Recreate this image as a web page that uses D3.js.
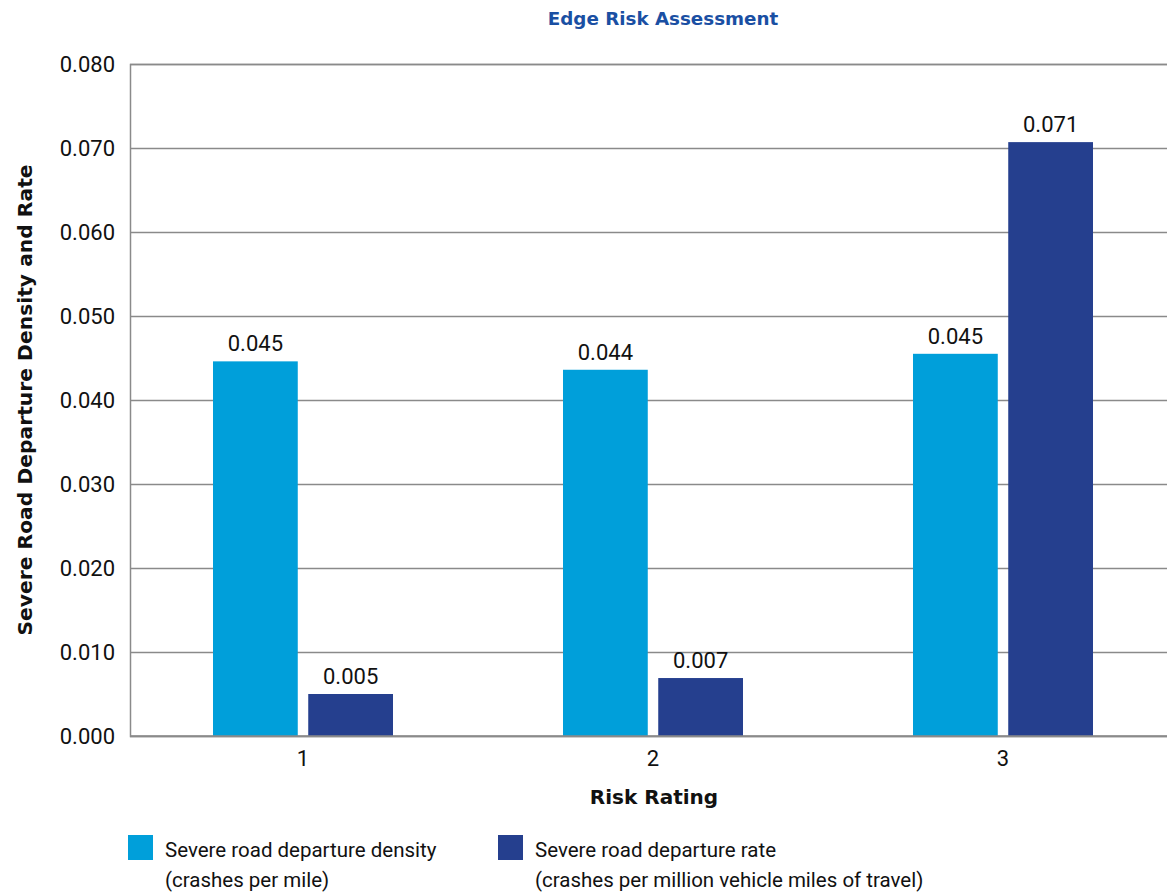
<!DOCTYPE html>
<html>
<head>
<meta charset="utf-8">
<script src="https://cdn.jsdelivr.net/npm/d3@7"></script>
<style>
  html, body { margin: 0; padding: 0; background: #fff; }
  svg { display: block; font-family: Roboto, "Liberation Sans", sans-serif; }
  .bold { font-family: "DejaVu Sans", sans-serif; font-weight: bold; }
</style>
</head>
<body>
<svg id="chart" width="1167" height="893"></svg>
<script>
// Risk ratings along the x axis
const categories = ["1", "2", "3"];
// Series: severe road departure density and rate
const seriesNames = ["density", "rate"];
const seriesLabels = [
  ["Severe road departure density", "(crashes per mile)"],
  ["Severe road departure rate", "(crashes per million vehicle miles of travel)"]
];
const densityValues = [0.0446, 0.0436, 0.0455];
const rateValues = [0.0050, 0.0069, 0.0707];
const yTicks = [0, 0.01, 0.02, 0.03, 0.04, 0.05, 0.06, 0.07, 0.08];

const colors = { density: "#009fda", rate: "#253f8e" };
const textSize = 22;

const svg = d3.select("#chart");
const margin = { left: 130, top: 64, bottom: 736 };

const x = d3.scaleBand().domain(categories).range([128, 1178]);
const xInner = d3.scaleBand().domain(seriesNames).range([85, 265]).paddingInner(0.11);
const y = d3.scaleLinear().domain([0, 0.08]).range([margin.bottom, margin.top]);

// Horizontal gridlines and y tick labels
const yAxis = d3.axisLeft(y)
  .tickValues(yTicks)
  .tickFormat(d3.format(".3f"))
  .tickSize(-(1167 - margin.left))
  .tickPadding(15);
const gy = svg.append("g").attr("transform", `translate(${margin.left},0)`).call(yAxis);
gy.attr("font-family", null);
gy.select(".domain").attr("stroke", "#8a8a8a").attr("stroke-width", 1.5);
gy.selectAll(".tick line").attr("stroke", "#8a8a8a").attr("stroke-width", 1.5);
gy.selectAll(".tick text").attr("fill", "#111").attr("font-size", textSize);

// Category labels under the baseline
const xAxis = d3.axisBottom(x).tickSize(0).tickPadding(14);
const gx = svg.append("g").attr("transform", `translate(0,${margin.bottom})`).call(xAxis);
gx.attr("font-family", null);
gx.select(".domain").remove();
gx.selectAll(".tick text").attr("fill", "#111").attr("font-size", textSize);

const rows = categories.map((c, i) => ({ cat: c, density: densityValues[i], rate: rateValues[i] }));

const groups = svg.append("g").selectAll("g")
  .data(rows).join("g")
  .attr("transform", d => `translate(${x(d.cat)},0)`);

const fmt = d3.format(".3f");
groups.each(function (d) {
  const g = d3.select(this);
  seriesNames.forEach(s => {
    g.append("rect")
      .attr("x", xInner(s))
      .attr("width", xInner.bandwidth())
      .attr("y", y(d[s]))
      .attr("height", y(0) - y(d[s]))
      .attr("fill", colors[s]);
    g.append("text")
      .attr("x", xInner(s) + xInner.bandwidth() / 2)
      .attr("y", y(d[s]) - 10)
      .attr("text-anchor", "middle")
      .attr("font-size", textSize)
      .attr("fill", "#111")
      .text(fmt(d[s]));
  });
});

// Baseline drawn over the bar bottoms
svg.append("line")
  .attr("x1", margin.left).attr("x2", 1167)
  .attr("y1", y(0)).attr("y2", y(0))
  .attr("stroke", "#8a8a8a").attr("stroke-width", 1.5);

// Title
svg.append("text")
  .attr("class", "bold")
  .attr("x", 663).attr("y", 25)
  .attr("text-anchor", "middle")
  .attr("font-size", 18.3)
  .attr("fill", "#1a4fa3")
  .text("Edge Risk Assessment");

// Axis titles
svg.append("text")
  .attr("class", "bold")
  .attr("transform", `translate(32,400) rotate(-90)`)
  .attr("text-anchor", "middle")
  .attr("font-size", 20.3)
  .attr("fill", "#111")
  .text("Severe Road Departure Density and Rate");

svg.append("text")
  .attr("class", "bold")
  .attr("x", 654).attr("y", 804)
  .attr("text-anchor", "middle")
  .attr("font-size", 20)
  .attr("fill", "#111")
  .text("Risk Rating");

// Legend
const legendX = [128, 498];
seriesNames.forEach((s, i) => {
  const lg = svg.append("g").attr("transform", `translate(${legendX[i]},835)`);
  lg.append("rect").attr("width", 25).attr("height", 25).attr("fill", colors[s]);
  seriesLabels[i].forEach((line, j) => {
    lg.append("text")
      .attr("x", 37).attr("y", 22 + j * 30)
      .attr("font-size", 20.5).attr("fill", "#111")
      .text(line);
  });
});
</script>
</body>
</html>
